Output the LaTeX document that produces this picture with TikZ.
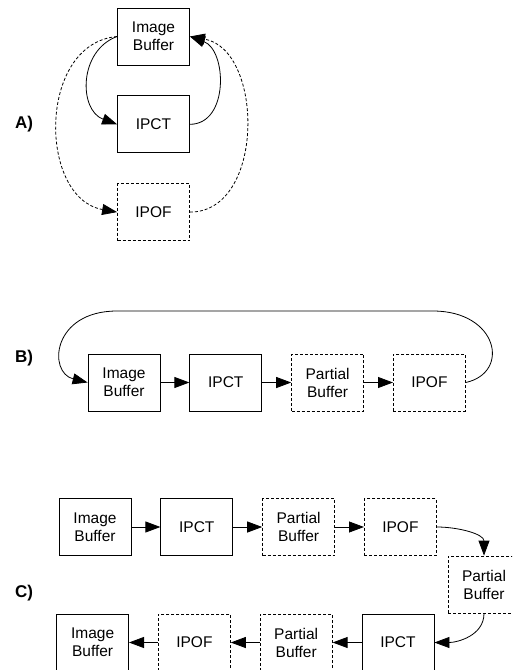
\documentclass[tikz,border=0pt]{standalone}
\usepackage{fontspec}
\setmainfont{Liberation Sans}
\usepackage{tikz}
\usetikzlibrary{positioning,arrows.meta}
\tikzset{
    block/.style={rectangle, draw=black, line width=0.8pt, minimum width=72pt, minimum height=57pt, inner sep=0pt, align=center, font=\fontsize{15.5}{18}\selectfont},
    dblock/.style={block, dash pattern=on 3pt off 2pt},
    conn/.style={draw=black, line width=0.8pt, -{Triangle[length=15pt,width=11pt]}},
    dconn/.style={conn, dash pattern=on 3pt off 2pt},
    partlabel/.style={font=\bfseries\fontsize{17}{20}\selectfont}
}

\begin{document}
\begin{tikzpicture}[x=1pt, y=1pt]

        \path[use as bounding box, clip] (0,0) rectangle (512,-670);

        % --- A) ---
        \node[partlabel] (labA) at (24,-124) {A)};
        \node[block] (aib) at (153.5,-36.5) {Image\\Buffer};
        \node[block, below=30pt of aib] (aipct) {IPCT};
        \node[dblock, below=30pt of aipct] (aipof) {IPOF};

        \draw[conn] (aib.west) to[out=200, in=160, looseness=1.2] (aipct.west);
        \draw[conn] (aipct.east) to[out=0, in=-20, looseness=1.15] (aib.east);
        \draw[dconn] (aib.west) to[out=185, in=170, looseness=1.17] (aipof.west);
        \draw[dconn] (aipof.east) to[out=0, in=-10, looseness=1.1] (aib.east);

        % --- B) ---
        \node[partlabel] (labB) at (24,-358) {B)};
        \node[block] (bib) at (124,-382.5) {Image\\Buffer};
        \node[block, right=29pt of bib] (bipct) {IPCT};
        \node[dblock, right=29pt of bipct] (bpb) {Partial\\Buffer};
        \node[dblock, right=29pt of bpb] (bipof) {IPOF};

        \foreach \a/\b in {bib/bipct, bipct/bpb, bpb/bipof} {
            \draw[conn] (\a) -- (\b);
        }

        % loop back over the top
        \coordinate (btopr) at (433,-311);
        \coordinate (btopl) at (117,-311);
        \draw[conn] (bipof.east) .. controls +(45,10) and +(65,0) .. (btopr)
            -- (btopl) .. controls +(-65,0) and +(-40,10) .. (bib.west);

        % --- C) ---
        \node[partlabel] (labC) at (24,-593) {C)};
        \node[block] (cib) at (95,-527) {Image\\Buffer};
        \node[block, right=29pt of cib] (cipct) {IPCT};
        \node[dblock, right=29pt of cipct] (cpb) {Partial\\Buffer};
        \node[dblock, right=29pt of cpb] (cipof) {IPOF};

        \node[dblock] (cpbr) at (484,-584.5) {Partial\\Buffer};

        \node[block] (cipctb) at (398,-642.5) {IPCT};
        \node[dblock, left=29pt of cipctb] (cpbb) {Partial\\Buffer};
        \node[dblock, left=29pt of cpbb] (cipofb) {IPOF};
        \node[block, left=29pt of cipofb] (cibb) {Image\\Buffer};

        \foreach \a/\b in {cib/cipct, cipct/cpb, cpb/cipof, cipctb/cpbb, cpbb/cipofb, cipofb/cibb} {
            \draw[conn] (\a) -- (\b);
        }

        \draw[conn] (cipof.east) to[out=0, in=90] (cpbr.north);
        \draw[conn] (cpbr.south) to[out=-90, in=0] (cipctb.east);

\end{tikzpicture}
\end{document}
